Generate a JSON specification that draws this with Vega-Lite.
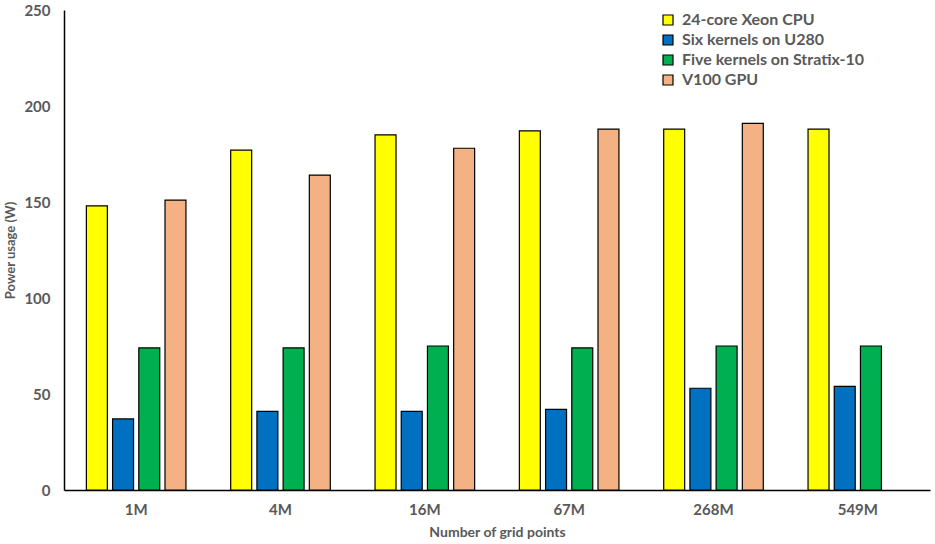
{
  "$schema": "https://vega.github.io/schema/vega-lite/v6.json",
  "width": 866,
  "height": 480,
  "autosize": {"type": "none"},
  "padding": {"left": 64, "top": 10, "right": 5, "bottom": 54},
  "background": "white",
  "config": {
    "view": {"stroke": null},
    "font": "Lato",
    "axis": {
      "grid": false,
      "ticks": false,
      "domainColor": "black",
      "domainWidth": 1.5,
      "labelFont": "Lato",
      "labelFontWeight": "bold",
      "labelColor": "#595959",
      "titleFont": "Lato",
      "titleFontWeight": "bold",
      "titleColor": "#595959"
    }
  },
  "data": {
    "values": [
      {"grid": "1M", "series": "24-core Xeon CPU", "power": 148},
      {"grid": "1M", "series": "Six kernels on U280", "power": 37},
      {"grid": "1M", "series": "Five kernels on Stratix-10", "power": 74},
      {"grid": "1M", "series": "V100 GPU", "power": 151},
      {"grid": "4M", "series": "24-core Xeon CPU", "power": 177},
      {"grid": "4M", "series": "Six kernels on U280", "power": 41},
      {"grid": "4M", "series": "Five kernels on Stratix-10", "power": 74},
      {"grid": "4M", "series": "V100 GPU", "power": 164},
      {"grid": "16M", "series": "24-core Xeon CPU", "power": 185},
      {"grid": "16M", "series": "Six kernels on U280", "power": 41},
      {"grid": "16M", "series": "Five kernels on Stratix-10", "power": 75},
      {"grid": "16M", "series": "V100 GPU", "power": 178},
      {"grid": "67M", "series": "24-core Xeon CPU", "power": 187},
      {"grid": "67M", "series": "Six kernels on U280", "power": 42},
      {"grid": "67M", "series": "Five kernels on Stratix-10", "power": 74},
      {"grid": "67M", "series": "V100 GPU", "power": 188},
      {"grid": "268M", "series": "24-core Xeon CPU", "power": 188},
      {"grid": "268M", "series": "Six kernels on U280", "power": 53},
      {"grid": "268M", "series": "Five kernels on Stratix-10", "power": 75},
      {"grid": "268M", "series": "V100 GPU", "power": 191},
      {"grid": "549M", "series": "24-core Xeon CPU", "power": 188},
      {"grid": "549M", "series": "Six kernels on U280", "power": 54},
      {"grid": "549M", "series": "Five kernels on Stratix-10", "power": 75}
    ]
  },
  "mark": {"type": "bar", "stroke": "black", "strokeWidth": 1.2, "opacity": 1},
  "encoding": {
    "x": {
      "field": "grid",
      "type": "nominal",
      "sort": ["1M", "4M", "16M", "67M", "268M", "549M"],
      "scale": {"paddingInner": 0.31, "paddingOuter": 0.155},
      "axis": {
        "title": "Number of grid points",
        "labelAngle": 0,
        "labelFontSize": 15,
        "labelPadding": 12,
        "titleFontSize": 14,
        "titlePadding": 8
      }
    },
    "xOffset": {
      "field": "series",
      "type": "nominal",
      "scale": {
        "domain": ["24-core Xeon CPU", "Six kernels on U280", "Five kernels on Stratix-10", "V100 GPU"],
        "paddingInner": 0.2
      }
    },
    "y": {
      "field": "power",
      "type": "quantitative",
      "scale": {"domain": [0, 250]},
      "axis": {
        "title": "Power usage (W)",
        "values": [0, 50, 100, 150, 200, 250],
        "labelFontSize": 15,
        "labelPadding": 14,
        "titleFontSize": 13,
        "titlePadding": 6
      }
    },
    "color": {
      "field": "series",
      "type": "nominal",
      "scale": {
        "domain": ["24-core Xeon CPU", "Six kernels on U280", "Five kernels on Stratix-10", "V100 GPU"],
        "range": ["#FFFF00", "#0070C0", "#00B050", "#F4B183"]
      },
      "legend": {
        "title": null,
        "orient": "none",
        "legendX": 596,
        "legendY": 2,
        "padding": 0,
        "symbolType": "square",
        "symbolSize": 100,
        "symbolStrokeColor": "black",
        "symbolStrokeWidth": 1.2,
        "symbolOpacity": 1,
        "labelFont": "Lato",
        "labelFontWeight": "bold",
        "labelFontSize": 16,
        "labelColor": "#595959",
        "labelOffset": 6,
        "rowPadding": 4,
        "labelLimit": 300
      }
    }
  }
}
